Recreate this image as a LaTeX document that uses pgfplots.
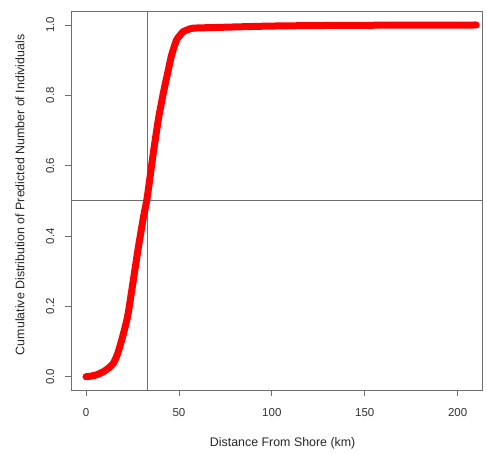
\documentclass[border=0pt]{standalone}
\usepackage{pgfplots}
\pgfplotsset{compat=1.18}
\usepackage{fontspec}
\setmainfont{Liberation Sans}
\definecolor{boxgray}{RGB}{110,110,110}
\begin{document}
\begin{tikzpicture}
\path[use as bounding box] (0,0) rectangle (487pt,453pt);
\begin{axis}[
  at={(71pt,63pt)}, anchor=south west,
  scale only axis, width=411pt, height=379pt,
  xmin=-8.07, xmax=213.1, ymin=-0.0378, ymax=1.0398,
  xtick={0,50,100,150,200}, xticklabels={0,50,100,150,200},
  ytick={0,0.2,0.4,0.6,0.8,1.0}, yticklabels={0.0,0.2,0.4,0.6,0.8,1.0},
  /pgf/number format/assume math mode=true,
  tick align=outside, major tick length=6pt,
  xtick pos=bottom, ytick pos=left,
  axis line style={boxgray, line width=0.8pt},
  every tick/.style={boxgray, line width=0.8pt},
  xticklabel style={font=\fontsize{11.5}{13}\selectfont, color=black!80, anchor=north, inner sep=0pt},
  yticklabel style={font=\fontsize{11.5}{13}\selectfont, color=black!80, rotate=90, anchor=south, inner sep=0pt},
  xticklabel shift=12.7pt,
  yticklabel shift=10.5pt,
  xlabel={Distance From Shore (km)},
  ylabel={Cumulative Distribution of Predicted Number of Individuals},
  xlabel style={font=\fontsize{12.4}{14}\selectfont, color=black!85, at={(axis description cs:0.515,-0.14)}, anchor=center, inner sep=0pt},
  ylabel style={font=\fontsize{12.4}{14}\selectfont, color=black!85, at={(axis description cs:-0.124,0.515)}, anchor=center, inner sep=0pt},
  clip=false,
]
\addplot[boxgray, line width=0.8pt] coordinates {(33,-0.0378) (33,1.0398)};
\addplot[boxgray, line width=0.8pt] coordinates {(-8.07,0.5) (213.1,0.5)};
\addplot[red, line width=7pt, line cap=round, line join=round, smooth, tension=0.4] coordinates {
(0,0.000) (3,0.002) (6,0.006) (9.3,0.014) (12,0.024) (14.7,0.038) (17,0.065)
(19.2,0.104) (21,0.14) (22.7,0.18) (25.4,0.272) (28.1,0.365) (30.8,0.45)
(32.8,0.505) (34.4,0.565) (36.2,0.635) (38.9,0.73) (41.6,0.806) (44.3,0.872)
(46.1,0.915) (48.7,0.957) (50.5,0.97) (52.3,0.981) (55,0.987) (57.7,0.991)
(70,0.993) (100,0.997) (140,0.999) (210,1.0)
};
\end{axis}
\end{tikzpicture}
\end{document}
